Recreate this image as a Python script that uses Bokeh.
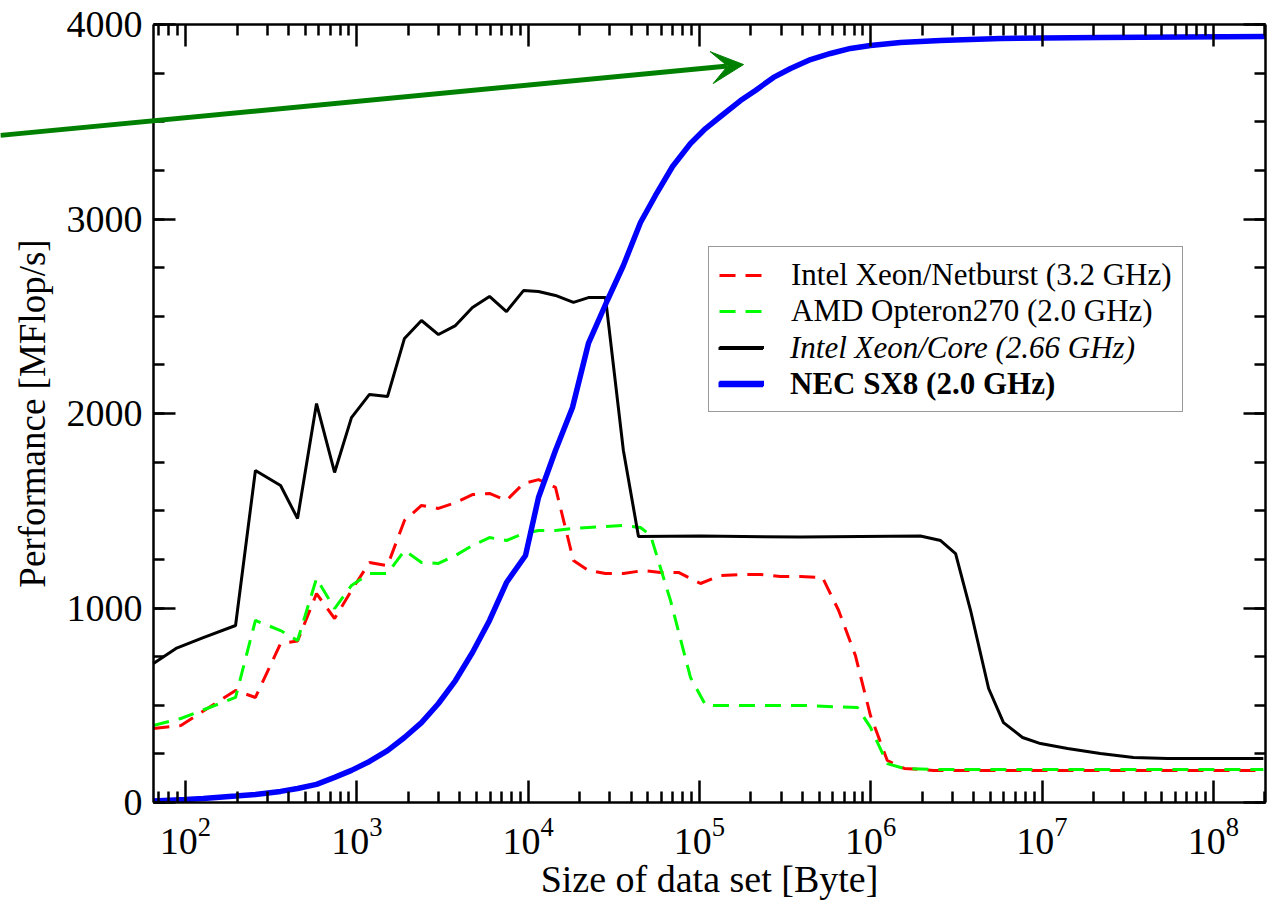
from bokeh.plotting import figure
from bokeh.models import (LogAxis, LinearAxis, FixedTicker, LogTickFormatter, Legend,
                          LegendItem, Arrow, VeeHead, Range1d)
from bokeh.embed import file_html
from bokeh.resources import INLINE

# ---------------- data ----------------
core_x = [65, 88, 127, 196, 256, 359, 451, 582, 742, 931, 1186, 1511, 1898, 2386, 2998,
          3767, 4734, 5953, 7480, 9400, 11500, 14450, 18400, 22500, 28300, 36000, 44100,
          101500, 389000, 1950000, 2560000, 3130000, 3830000, 4880000, 5960000, 7700000,
          9800000, 14100000, 21900000, 34200000, 54000000, 196000000]
core_y = [715, 792, 848, 910, 1707, 1630, 1460, 2051, 1697, 1979, 2098, 2087, 2386, 2478, 2406,
          2452, 2545, 2602, 2524, 2632, 2627, 2607, 2571, 2596, 2596, 1810, 1368,
          1370, 1365, 1370, 1347, 1280, 987, 586, 411, 334,
          303, 278, 252, 231, 226, 226]

netburst_x = [65, 94, 196, 256, 359, 451, 582, 742, 931, 1186, 1511, 1898, 2386, 2998, 3767,
              4734, 5953, 7480, 9400, 11500, 14450, 18400, 22500, 28300, 36000, 47200, 59300,
              75500, 101500, 132800, 173800, 227600, 297400, 389000, 523000, 650000, 814000,
              997000, 1250000, 1570000, 2330000, 196000000]
netburst_y = [380, 396, 576, 540, 818, 830, 1074, 946, 1090, 1234, 1218, 1450, 1527, 1512, 1542,
              1583, 1589, 1553, 1640, 1660, 1620, 1244, 1193, 1177, 1177, 1193, 1183,
              1183, 1126, 1167, 1172, 1172, 1162, 1162, 1157, 987, 756,
              447, 216, 175, 165, 165]

opteron_x = [65, 94, 196, 256, 359, 451, 582, 742, 931, 1186, 1511, 1898, 2386, 2998, 3767,
             4734, 5953, 7480, 9400, 11500, 14450, 18400, 22500, 28300, 36000, 45300, 51900,
             67800, 88700, 109000, 200000, 400000, 838000, 997000, 1250000, 1570000, 2330000,
             196000000]
opteron_y = [396, 432, 540, 936, 884, 833, 1152, 997, 1116, 1177, 1177, 1296, 1234, 1229, 1270,
             1321, 1362, 1347, 1383, 1398, 1398, 1409, 1414, 1419, 1424, 1414, 1373,
             1039, 643, 499, 499, 499, 488, 386, 200, 175, 170,
             170]

sx8_x = [65, 100, 127, 196, 256, 359, 451, 582, 742, 931, 1186, 1511, 1898, 2386, 2998, 3767,
         4734, 5953, 7480, 9660, 11500, 14450, 18160, 22500, 29000, 36000, 45300, 55400, 69700,
         88700, 108600, 132800, 173800, 212500, 270800, 340500, 445400, 582500, 762000, 997000,
         1490000, 2550000, 5720000, 21900000, 202000000]
sx8_y = [8, 15, 21, 33, 41, 57, 72, 93, 129, 165, 211, 267, 334, 411, 509, 627,
         771, 936, 1131, 1270, 1568, 1810, 2031, 2360, 2581, 2761, 2982, 3121, 3270,
         3388, 3465, 3527, 3609, 3661, 3728, 3774, 3820, 3851, 3877, 3892,
         3907, 3918, 3928, 3933, 3938]

labels = ["Intel Xeon/Netburst (3.2 GHz)", "AMD Opteron270 (2.0 GHz)",
          "Intel Xeon/Core (2.66 GHz)", "NEC SX8 (2.0 GHz)"]

X_AXIS = (65, 2.02e8)      # extent of the plotted box (data units)
Y_AXIS = (0, 4000)
X_VIEW = (8.32, 2.216e8)   # visible range (room left of the box for the arrow tail)
Y_VIEW = (-509, 4123.4)    # visible range (room for tick labels / titles)

x_major = [1e2, 1e3, 1e4, 1e5, 1e6, 1e7, 1e8]
y_major = [0, 1000, 2000, 3000, 4000]
y_minor = [0, 250, 500, 750, 1000, 1250, 1500, 1750, 2000, 2250, 2500, 2750, 3000,
           3250, 3500, 3750, 4000]
x_minor = [m * d for d in [10, 100, 1000, 1e4, 1e5, 1e6, 1e7, 1e8]
           for m in [2, 3, 4, 5, 6, 7, 8, 9]
           if X_AXIS[0] <= m * d <= X_AXIS[1]]

ARROW_FROM = (8.3, 3430)
ARROW_TO = (1.81e5, 3794)

FONT = "Liberation Serif"

# ---------------- figure ----------------
p = figure(width=1272, height=901, x_axis_type="log",
           x_range=Range1d(*X_VIEW), y_range=Range1d(*Y_VIEW),
           output_backend="svg", toolbar_location=None,
           min_border_left=0, min_border_right=0, min_border_top=0, min_border_bottom=0)
p.xgrid.visible = False
p.ygrid.visible = False
p.outline_line_color = None
p.background_fill_color = "white"
p.border_fill_color = "white"


def style_axis(ax, show_labels=True):
    ax.axis_line_width = 2.5
    ax.axis_line_color = "black"
    ax.major_tick_in = 22
    ax.major_tick_out = 0
    ax.minor_tick_in = 11
    ax.minor_tick_out = 0
    ax.major_tick_line_width = 2.5
    ax.minor_tick_line_width = 2.5
    ax.major_tick_line_color = "black"
    ax.minor_tick_line_color = "black"
    ax.major_label_text_font = FONT
    ax.major_label_text_color = "black"
    if show_labels:
        ax.major_label_text_font_size = "38px"
    else:
        ax.major_label_text_font_size = "1px"
        ax.major_label_text_alpha = 0
        ax.major_label_standoff = 0
    ax.axis_label_text_font = FONT
    ax.axis_label_text_font_size = "38px"
    ax.axis_label_text_font_style = "normal"
    ax.axis_label_text_color = "black"


bottom = p.xaxis[0]
left = p.yaxis[0]
bottom.ticker = FixedTicker(ticks=x_major, minor_ticks=x_minor)
bottom.formatter = LogTickFormatter()
left.ticker = FixedTicker(ticks=y_major, minor_ticks=y_minor)
style_axis(bottom)
style_axis(left)
bottom.axis_label = "Size of data set [Byte]"
left.axis_label = "Performance [MFlop/s]"
left.axis_label_text_font_size = "37px"
bottom.major_label_standoff = 16
left.major_label_standoff = 11
bottom.axis_label_standoff = 0
left.axis_label_standoff = 11
bottom.fixed_location = Y_AXIS[0]
bottom.bounds = X_AXIS
left.fixed_location = X_AXIS[0]
left.bounds = Y_AXIS

top = LogAxis(ticker=FixedTicker(ticks=x_major, minor_ticks=x_minor),
              fixed_location=Y_AXIS[1], bounds=X_AXIS)
style_axis(top, show_labels=False)
p.add_layout(top, "above")
right = LinearAxis(ticker=FixedTicker(ticks=y_major, minor_ticks=y_minor),
                   fixed_location=X_AXIS[1], bounds=Y_AXIS)
style_axis(right, show_labels=False)
p.add_layout(right, "right")

# ---------------- series ----------------
r_red = p.line(netburst_x, netburst_y, line_color="#ff0000", line_width=3, line_dash="16 10")
r_green = p.line(opteron_x, opteron_y, line_color="#00ff00", line_width=3, line_dash="16 10")
r_black = p.line(core_x, core_y, line_color="black", line_width=3)
r_blue = p.line(sx8_x, sx8_y, line_color="#0000ff", line_width=5.5)

# ---------------- arrow ----------------
p.add_layout(Arrow(end=VeeHead(size=32, fill_color="#008000", line_color="#008000"),
                   x_start=ARROW_FROM[0], y_start=ARROW_FROM[1],
                   x_end=ARROW_TO[0], y_end=ARROW_TO[1],
                   line_color="#008000", line_width=5))

# ---------------- legends ----------------
PAD = 10
ROW = 36
LEG_X = 708
LEG_Y = 489


def legend_common(leg):
    leg.label_text_font = FONT
    leg.label_text_font_size = "31px"
    leg.label_text_color = "black"
    leg.glyph_width = 45
    leg.glyph_height = ROW
    leg.label_height = ROW
    leg.spacing = 0
    leg.padding = PAD
    leg.margin = 0
    leg.label_standoff = 27


main = Legend(items=[LegendItem(label=labels[0], renderers=[r_red]),
                     LegendItem(label=labels[1], renderers=[r_green]),
                     LegendItem(label=" ", renderers=[r_black]),
                     LegendItem(label=" ", renderers=[r_blue])],
              location=(LEG_X, LEG_Y))
legend_common(main)
main.border_line_color = "#333333"
main.border_line_width = 1.5
main.background_fill_color = "white"
main.background_fill_alpha = 1.0

leg_it = Legend(items=[LegendItem(label=labels[2], renderers=[r_black])],
                location=(LEG_X, LEG_Y + ROW))
legend_common(leg_it)
leg_it.label_text_font_style = "italic"
leg_it.border_line_alpha = 0
leg_it.background_fill_alpha = 0

leg_bd = Legend(items=[LegendItem(label=labels[3], renderers=[r_blue])],
                location=(LEG_X, LEG_Y))
legend_common(leg_bd)
leg_bd.label_text_font_style = "bold"
leg_bd.border_line_alpha = 0
leg_bd.background_fill_alpha = 0

p.add_layout(main)
p.add_layout(leg_it)
p.add_layout(leg_bd)

open("out.html", "w").write(file_html(p, INLINE))
